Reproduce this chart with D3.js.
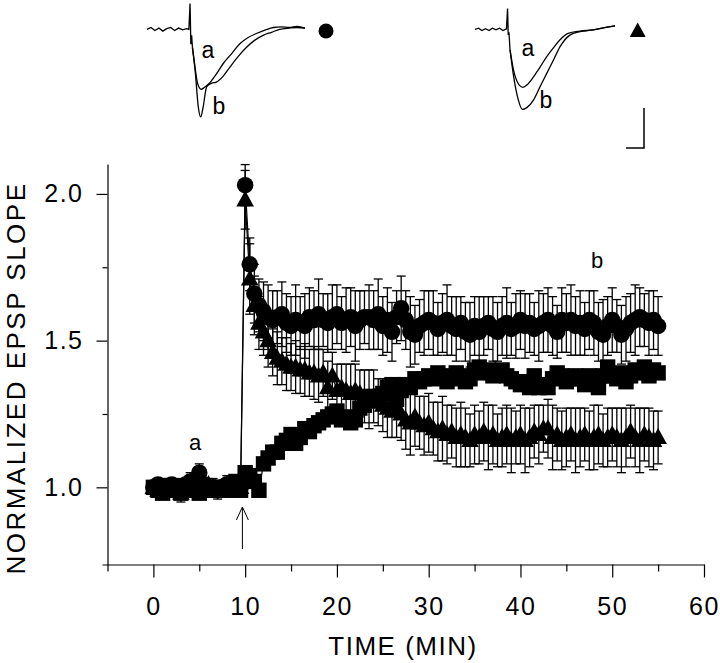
<!DOCTYPE html>
<html lang="en">
<head>
<meta charset="utf-8">
<title>Normalized EPSP slope</title>
<script src="https://d3js.org/d3.v7.min.js"></script>
<style>
  body { margin: 0; background: #fff; }
  svg text { font-family: "Liberation Sans", Arial, sans-serif; fill: #000; }
</style>
</head>
<body>
<script>
// sample times (min), one point every 30 s
var time = [0,0.5,1,1.5,2,2.5,3,3.5,4,4.5,5,5.5,6,6.5,7,7.5,8,8.5,9,9.5,
  10,10.5,11,11.5,12,12.5,13,13.5,14,14.5,15,15.5,16,16.5,17,17.5,18,18.5,19,19.5,
  20,20.5,21,21.5,22,22.5,23,23.5,24,24.5,25,25.5,26,26.5,27,27.5,28,28.5,29,29.5,
  30,30.5,31,31.5,32,32.5,33,33.5,34,34.5,35,35.5,36,36.5,37,37.5,38,38.5,39,39.5,
  40,40.5,41,41.5,42,42.5,43,43.5,44,44.5,45,45.5,46,46.5,47,47.5,48,48.5,49,49.5,
  50,50.5,51,51.5,52,52.5,53,53.5,54,54.5,55];

var circleVals = [1.00,1.01,1.00,0.99,1.01,1.00,1.00,1.01,1.02,0.99,1.05,1.01,1.00,1.00,0.99,1.00,1.01,1.00,1.01,1.00,
  2.03,1.76,1.66,1.62,1.60,1.58,1.57,1.58,1.59,1.56,1.55,1.57,1.56,1.55,1.58,1.57,1.59,1.57,1.56,1.58,
  1.59,1.56,1.57,1.58,1.55,1.57,1.58,1.58,1.57,1.59,1.55,1.57,1.53,1.58,1.61,1.57,1.53,1.52,1.55,1.56,
  1.57,1.56,1.54,1.56,1.57,1.55,1.54,1.56,1.53,1.52,1.55,1.53,1.55,1.56,1.54,1.53,1.55,1.56,1.54,1.55,
  1.57,1.55,1.56,1.54,1.55,1.56,1.57,1.55,1.53,1.57,1.56,1.57,1.55,1.56,1.54,1.57,1.56,1.53,1.52,1.55,
  1.57,1.55,1.52,1.54,1.56,1.57,1.58,1.57,1.56,1.57,1.55];
var circleErr = [0.02,0.02,0.03,0.02,0.02,0.03,0.02,0.02,0.03,0.02,0.03,0.02,0.02,0.03,0.02,0.02,0.03,0.02,0.02,0.03,
  0.07,0.09,0.10,0.09,0.10,0.11,0.10,0.09,0.11,0.10,
  0.10,0.12,0.09,0.11,0.10,0.10,0.12,0.09,0.10,0.11,
  0.10,0.09,0.11,0.10,0.12,0.10,0.09,0.11,0.10,0.12,
  0.10,0.11,0.10,0.09,0.11,0.10,0.12,0.10,0.09,0.11,
  0.10,0.11,0.09,0.10,0.12,0.10,0.11,0.09,0.10,0.11,
  0.10,0.12,0.10,0.09,0.11,0.10,0.10,0.12,0.09,0.11,
  0.10,0.11,0.10,0.09,0.12,0.10,0.11,0.10,0.09,0.11,
  0.10,0.12,0.10,0.11,0.09,0.10,0.11,0.10,0.12,0.10,
  0.11,0.09,0.10,0.11,0.10,0.12,0.10,0.09,0.11,0.10,0.10];

var triangleVals = [1.00,0.99,1.00,1.00,0.99,1.00,0.98,1.00,1.01,1.00,0.99,1.00,1.01,1.00,0.99,1.00,1.00,1.01,1.00,1.00,
  1.98,1.71,1.62,1.56,1.53,1.50,1.46,1.44,1.43,1.42,1.41,1.41,1.40,1.40,1.39,1.39,1.38,1.39,1.34,1.38,
  1.33,1.34,1.33,1.32,1.33,1.32,1.31,1.30,1.31,1.29,1.28,1.27,1.26,1.27,1.25,1.23,1.22,1.24,1.22,1.21,
  1.22,1.20,1.19,1.20,1.18,1.19,1.17,1.18,1.17,1.16,1.18,1.17,1.19,1.17,1.18,1.16,1.17,1.18,1.16,1.17,
  1.18,1.16,1.17,1.19,1.18,1.20,1.20,1.17,1.18,1.16,1.17,1.18,1.16,1.17,1.18,1.16,1.17,1.18,1.16,1.17,
  1.18,1.17,1.16,1.17,1.19,1.17,1.16,1.18,1.17,1.16,1.17];
var triangleErr = [0.02,0.02,0.02,0.03,0.02,0.02,0.03,0.02,0.02,0.02,0.03,0.02,0.02,0.02,0.03,0.02,0.02,0.03,0.02,0.02,
  0.10,0.12,0.10,0.09,0.08,0.09,0.08,0.09,0.08,0.09,
  0.08,0.09,0.08,0.09,0.08,0.09,0.09,0.08,0.09,0.08,
  0.09,0.08,0.09,0.10,0.09,0.08,0.09,0.10,0.09,0.08,
  0.09,0.10,0.09,0.10,0.09,0.10,0.11,0.10,0.09,0.10,
  0.10,0.09,0.10,0.11,0.10,0.09,0.10,0.11,0.10,0.09,
  0.10,0.09,0.10,0.11,0.10,0.09,0.10,0.10,0.11,0.09,
  0.10,0.11,0.10,0.09,0.10,0.08,0.10,0.11,0.09,0.10,
  0.10,0.09,0.11,0.10,0.09,0.10,0.11,0.10,0.09,0.10,
  0.09,0.10,0.11,0.10,0.09,0.10,0.11,0.09,0.10,0.10,0.09];

var squareVals = [1.00,0.99,0.98,0.99,1.00,0.99,0.98,0.99,1.00,0.99,0.98,1.00,0.99,0.99,1.00,1.00,0.99,1.01,1.02,0.99,
  1.05,1.04,1.02,0.99,1.08,1.10,1.12,1.12,1.15,1.16,1.18,1.15,1.17,1.20,1.19,1.21,1.22,1.23,1.24,1.25,
  1.26,1.23,1.24,1.22,1.23,1.27,1.28,1.30,1.31,1.30,1.32,1.34,1.35,1.30,1.33,1.35,1.34,1.37,1.36,1.37,
  1.38,1.37,1.39,1.38,1.36,1.37,1.39,1.38,1.36,1.37,1.40,1.41,1.39,1.40,1.38,1.39,1.40,1.38,1.37,1.36,
  1.35,1.36,1.34,1.38,1.34,1.35,1.34,1.37,1.39,1.38,1.36,1.37,1.38,1.37,1.35,1.38,1.36,1.34,1.38,1.41,
  1.38,1.37,1.39,1.36,1.38,1.40,1.39,1.41,1.38,1.40,1.39];

var xTicks = [0, 10, 20, 30, 40, 50, 60];
var xMinorTicks = [-5, 5, 15, 25, 35, 45, 55];
var yTicks = [1.0, 1.5, 2.0];
var yMinorTicks = [1.25, 1.75];

// example EPSP traces (ms, relative amplitude)
var leftBaseMs = [0,1,2,3,4,5,6,7,8,9,10,10.6,10.9,11.1,11.3,11.5];
var leftBaseV  = [0,0.03,-0.02,0.02,-0.03,0.01,0.03,-0.02,0.02,-0.01,0.01,0.0,0.43,-0.25,-0.1,-0.3];
var leftAms = [11.5,12.0,12.8,13.7,14.5,15.8,17.5,19.3,21.5,23.5,25.5,27.7,30,32,34,36,38,40];
var leftAv  = [-0.3,-0.55,-0.9,-1.0,-0.97,-0.9,-0.75,-0.57,-0.4,-0.24,-0.14,-0.07,-0.01,0.03,0.04,0.03,0.05,0.02];
var leftBms = [11.5,12.2,13.0,13.6,14.2,15.1,16.3,17.6,19.3,21,23,25.2,27.3,29.4,31.5,33.6,36,38,40];
var leftBv  = [-0.3,-0.7,-1.3,-1.46,-1.3,-0.96,-0.9,-0.88,-0.78,-0.63,-0.46,-0.3,-0.18,-0.1,-0.05,0.0,0.02,0.03,0.02];

var rightBaseMs = [0,1,2,3,4,5,6,7,8,9,9.3,9.5,9.7,10.0];
var rightBaseV  = [0,0.02,-0.02,0.01,-0.02,0.02,-0.01,0.02,-0.02,0.01,0.36,-0.1,-0.05,-0.35];
var rightAms = [10.0,11.0,12.3,13.7,15.0,16.7,18.5,20.5,22.5,24.3,26.6,30,33.8,37,40];
var rightAv  = [-0.35,-0.7,-0.93,-1.0,-0.95,-0.82,-0.66,-0.47,-0.31,-0.18,-0.07,-0.03,-0.01,0.03,0.06];
var rightBms = [10.0,11.0,12.3,13.5,14.8,16.7,18.5,20.5,22.5,24.3,27.1,30,33.8,37,40];
var rightBv  = [-0.35,-0.8,-1.2,-1.38,-1.35,-1.22,-1.0,-0.76,-0.52,-0.3,-0.1,-0.04,-0.01,0.03,0.06];

var w = 720;
var h = 663;

var svg = d3.select("body")
  .append("svg")
  .attr("width", w)
  .attr("height", h);

var x = d3.scaleLinear().domain([-5.6, 60]).range([102, 704]);
var y = d3.scaleLinear().domain([0.737, 2.102]).range([564.5, 164]);

// axes
svg.append("g")
  .attr("transform", "translate(" + x(-5) + ",0)")
  .call(d3.axisLeft(y).tickValues(yTicks).tickSize(11).tickSizeOuter(0)
    .tickPadding(13).tickFormat(d3.format(".1f")));
svg.append("g")
  .attr("transform", "translate(" + x(-5) + ",0)")
  .call(d3.axisLeft(y).tickValues(yMinorTicks).tickSize(5).tickSizeOuter(0).tickFormat(""))
  .select(".domain").remove();

svg.append("g")
  .attr("transform", "translate(0," + y(0.737) + ")")
  .call(d3.axisBottom(x).tickValues(xTicks).tickSize(13).tickSizeOuter(0).tickPadding(20));
svg.append("g")
  .attr("transform", "translate(0," + y(0.737) + ")")
  .call(d3.axisBottom(x).tickValues(xMinorTicks).tickSize(7).tickSizeOuter(0).tickFormat(""))
  .select(".domain").remove();

svg.selectAll(".tick text")
  .attr("font-size", 25)
  .attr("font-family", "Liberation Sans, Arial, sans-serif")
  .style("letter-spacing", "1.5px");
svg.selectAll(".domain, .tick line").attr("stroke", "#000").attr("stroke-width", 1.2);

svg.append("text")
  .attr("x", 403)
  .attr("y", 655)
  .attr("text-anchor", "middle")
  .attr("font-size", 26)
  .style("letter-spacing", "1.5px")
  .text("TIME (MIN)");

svg.append("text")
  .attr("transform", "translate(25,378) rotate(-90)")
  .attr("text-anchor", "middle")
  .attr("font-size", 26)
  .style("letter-spacing", "2.5px")
  .text("NORMALIZED EPSP SLOPE");

// stimulus arrow
var arrowX = x(9.7);
svg.append("line")
  .attr("x1", arrowX).attr("x2", arrowX)
  .attr("y1", 507).attr("y2", 549)
  .attr("stroke", "#000").attr("stroke-width", 1);
svg.append("path")
  .attr("d", "M" + (arrowX - 6) + ",520 L" + arrowX + ",507 L" + (arrowX + 6) + ",520")
  .attr("fill", "none").attr("stroke", "#000").attr("stroke-width", 1);

var series = [
  { vals: triangleVals, err: triangleErr, shape: "triangle" },
  { vals: squareVals, err: null, shape: "square" },
  { vals: circleVals, err: circleErr, shape: "circle" }
];

// error bars
series.forEach(function(s) {
  if (!s.err) return;
  var g = svg.append("g").attr("stroke", "#000").attr("stroke-width", 1.3);
  time.forEach(function(t, i) {
    var cx = x(t);
    var top = y(s.vals[i] + s.err[i]);
    var bot = y(s.vals[i] - s.err[i]);
    g.append("line").attr("x1", cx).attr("x2", cx).attr("y1", top).attr("y2", bot);
    g.append("line").attr("x1", cx - 4.5).attr("x2", cx + 4.5).attr("y1", top).attr("y2", top);
    g.append("line").attr("x1", cx - 4.5).attr("x2", cx + 4.5).attr("y1", bot).attr("y2", bot);
  });
});

// connecting lines
var line = d3.line()
  .x(function(d, i) { return x(time[i]); })
  .y(function(d) { return y(d); });
series.forEach(function(s) {
  svg.append("path")
    .attr("d", line(s.vals))
    .attr("fill", "none")
    .attr("stroke", "#000")
    .attr("stroke-width", 1.2);
});

function marker(g, shape, cx, cy, k) {
  k = k || 1;
  if (shape === "circle") {
    g.append("circle").attr("cx", cx).attr("cy", cy).attr("r", 7.5 * k);
  } else if (shape === "square") {
    var s = 14 * k;
    g.append("rect").attr("x", cx - s / 2).attr("y", cy - s / 2).attr("width", s).attr("height", s);
  } else {
    g.append("path").attr("d", "M" + cx + "," + (cy - 8.5 * k) + " L" + (cx + 8 * k) + "," + (cy + 6 * k) +
      " L" + (cx - 8 * k) + "," + (cy + 6 * k) + " Z");
  }
}

series.forEach(function(s) {
  var g = svg.append("g").attr("fill", "#000");
  s.vals.forEach(function(v, i) {
    marker(g, s.shape, x(time[i]), y(v), 1.1);
  });
});

// point labels
svg.append("text").attr("x", 195).attr("y", 450).attr("text-anchor", "middle")
  .attr("font-size", 22).text("a");
svg.append("text").attr("x", 597).attr("y", 268).attr("text-anchor", "middle")
  .attr("font-size", 22).text("b");

// inset traces
function pairs(ms, v) {
  return ms.map(function(m, i) { return [m, v[i]]; });
}

function drawInset(xr, y0, yUnit, baseMs, baseV, aMs, aV, bMs, bV) {
  var tx = d3.scaleLinear().domain([0, 40]).range(xr);
  var ty = d3.scaleLinear().domain([0, -1]).range([y0, y0 + yUnit]);
  var lin = d3.line().x(function(d) { return tx(d[0]); }).y(function(d) { return ty(d[1]); });
  var smooth = d3.line().curve(d3.curveMonotoneX)
    .x(function(d) { return tx(d[0]); }).y(function(d) { return ty(d[1]); });
  var g = svg.append("g").attr("fill", "none").attr("stroke", "#000").attr("stroke-width", 1.3);
  g.append("path").attr("d", lin(pairs(baseMs, baseV)));
  g.append("path").attr("d", smooth(pairs(aMs, aV)));
  g.append("path").attr("d", smooth(pairs(bMs, bV)));
}

drawInset([147, 305], 29.3, 60, leftBaseMs, leftBaseV, leftAms, leftAv, leftBms, leftBv);
drawInset([475, 615], 29.3, 58, rightBaseMs, rightBaseV, rightAms, rightAv, rightBms, rightBv);

svg.append("text").attr("x", 208).attr("y", 58).attr("text-anchor", "middle").attr("font-size", 23).text("a");
svg.append("text").attr("x", 219).attr("y", 114).attr("text-anchor", "middle").attr("font-size", 23).text("b");
svg.append("text").attr("x", 528).attr("y", 56).attr("text-anchor", "middle").attr("font-size", 23).text("a");
svg.append("text").attr("x", 546).attr("y", 108).attr("text-anchor", "middle").attr("font-size", 23).text("b");

var legend = svg.append("g").attr("fill", "#000");
marker(legend, "circle", 326, 31, 1);
marker(legend, "triangle", 637.7, 31, 1);

// scale bar
svg.append("path")
  .attr("d", "M644,108 L644,148 L626,148")
  .attr("fill", "none").attr("stroke", "#000").attr("stroke-width", 1.5);
</script>
</body>
</html>
